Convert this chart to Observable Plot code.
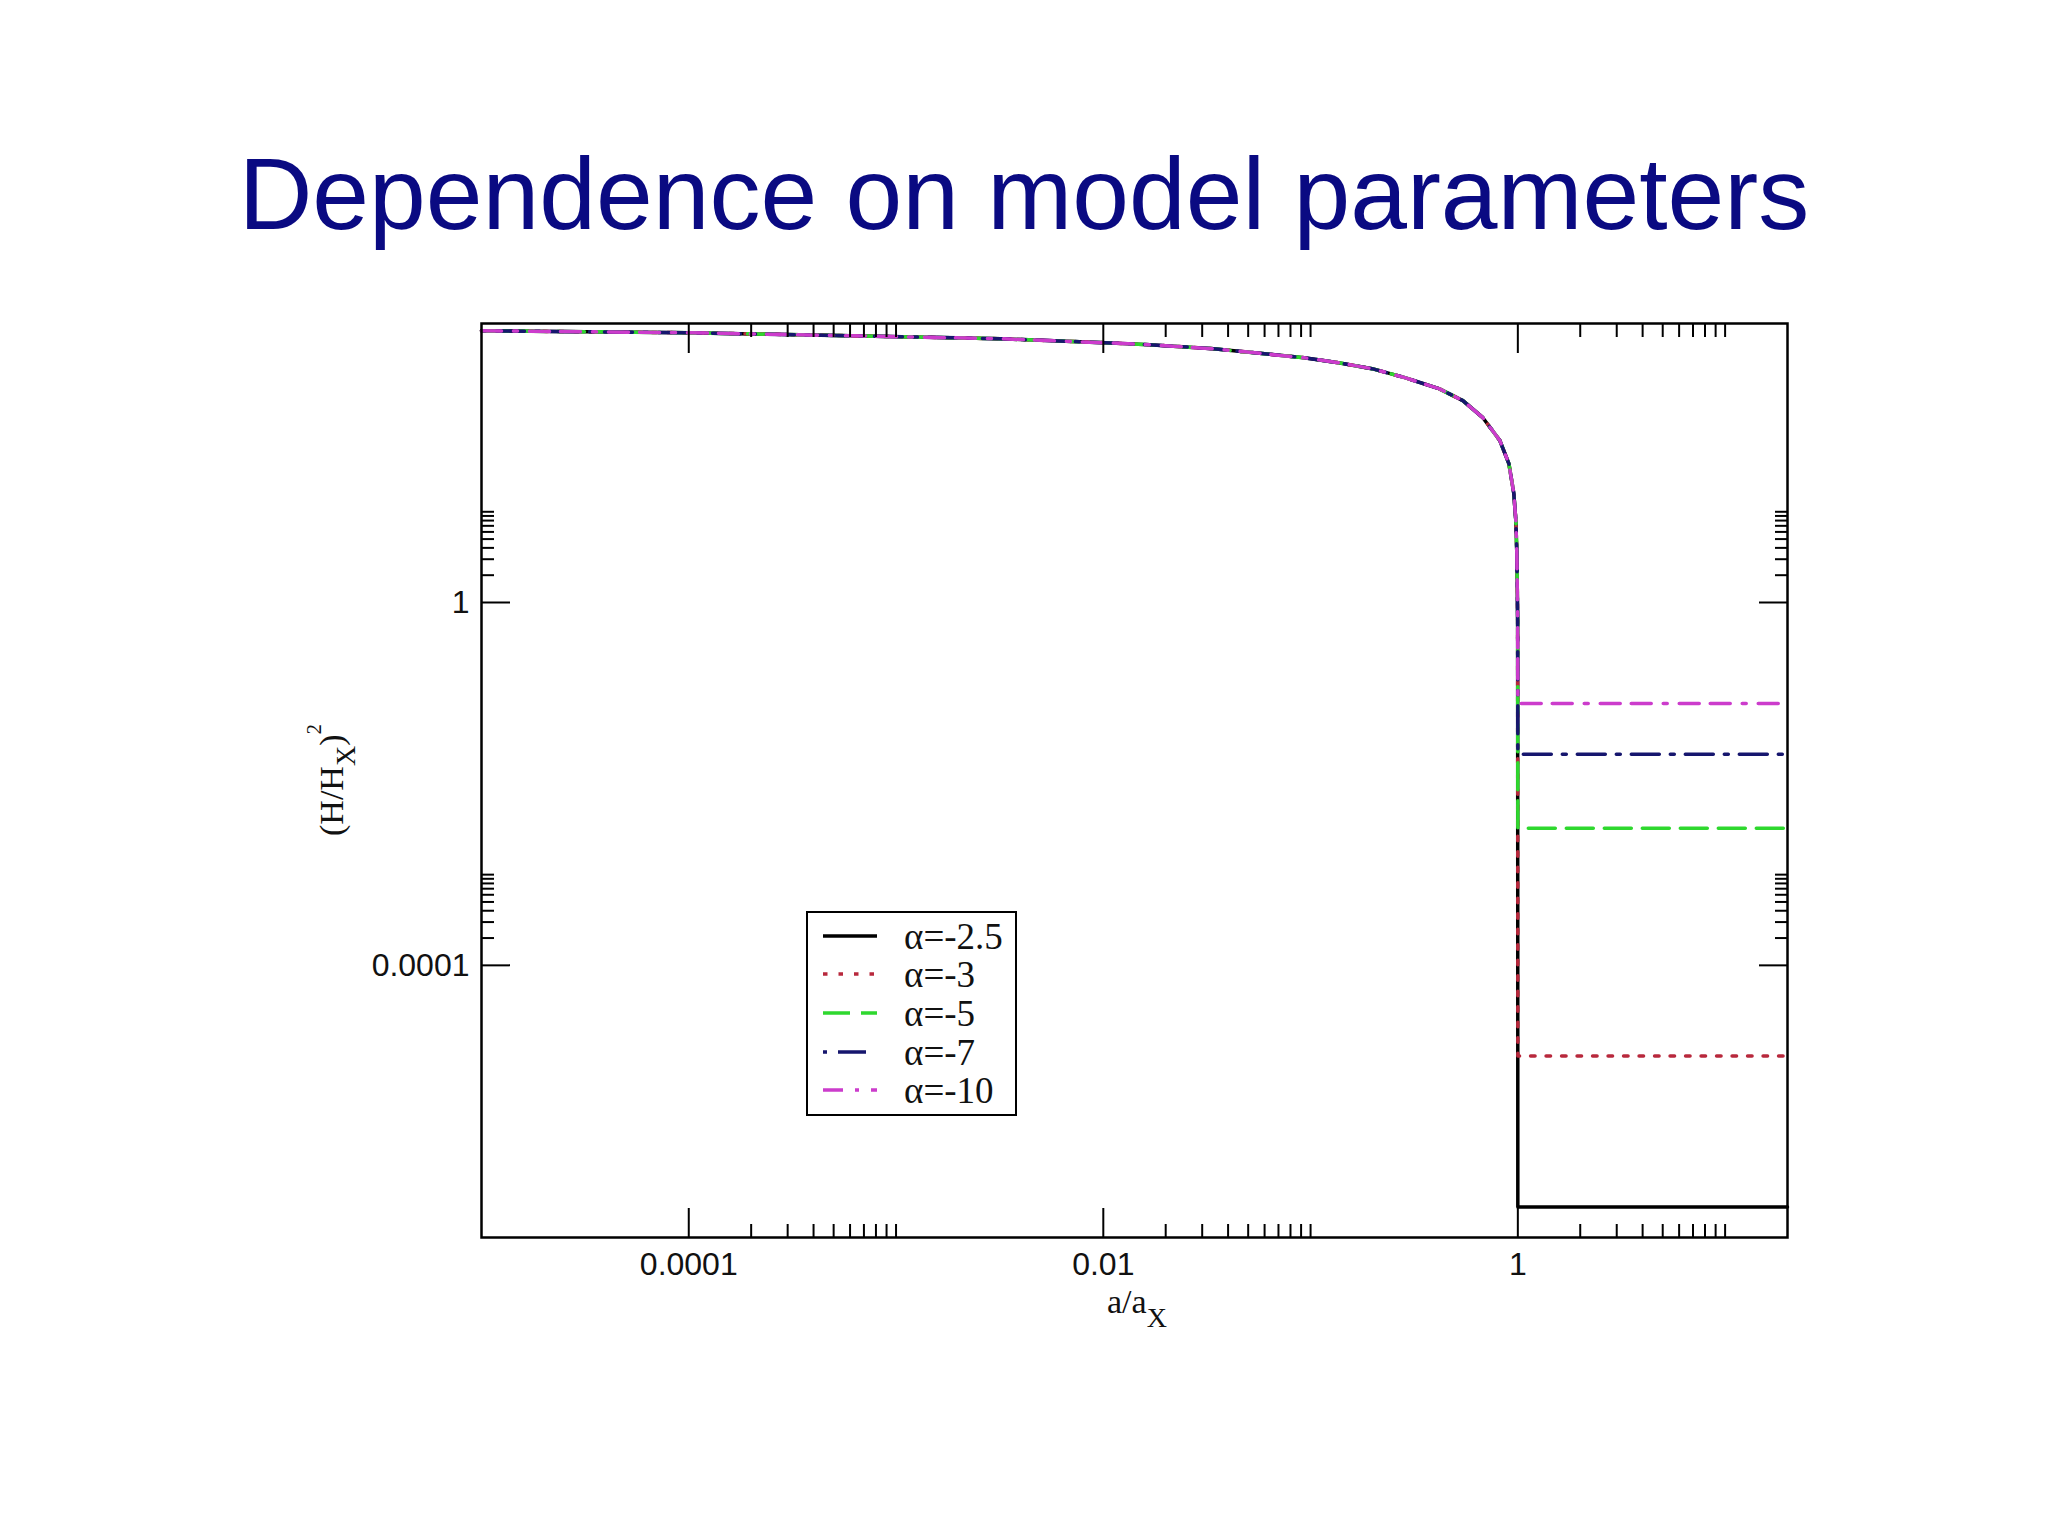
<!DOCTYPE html>
<html>
<head>
<meta charset="utf-8">
<script src="https://cdn.jsdelivr.net/npm/d3@7"></script>
<script src="https://cdn.jsdelivr.net/npm/@observablehq/plot@0.6"></script>
<style>
  html, body { margin: 0; padding: 0; background: #ffffff; }
  #page { width: 2048px; height: 1536px; position: relative; overflow: hidden; }
  #title {
    margin: 0; padding-top: 143px; height: 97px; line-height: 102px;
    font-family: "Liberation Sans", Arial, sans-serif; font-size: 102px;
    color: #0a0a82; text-align: center; white-space: nowrap; font-weight: normal;
  }
  #chart svg { display: block; }
</style>
</head>
<body>
<div id="page">
  <div id="title">Dependence on model parameters</div>
  <div id="chart"></div>
</div>
<script>
// ---- data ----
// shared curve for a/a_X < 1 (all alpha values coincide there)
const xCurve = [1e-5, 1e-4, 6e-4, 3.2e-3, 0.0102, 0.0167, 0.034, 0.06, 0.093, 0.136, 0.198, 0.285, 0.416, 0.543, 0.678, 0.819, 0.905, 0.956, 0.978, 0.989, 0.998];
const yCurve = [990, 941, 872, 808, 730, 694, 627, 552, 499, 440, 378, 301, 228, 168, 109, 61, 34, 16, 8, 3.5, 0.63];
// series
const alphaLabels = ["α=-2.5", "α=-3", "α=-5", "α=-7", "α=-10"];
const plateauValues = [2.17e-7, 1.0e-5, 0.00324, 0.0212, 0.0772];
const xJump = 1;
const xEnd = 20;
// ticks
const xMajorTicks = [1e-4, 1e-2, 1];
const xTickLabels = ["0.0001", "0.01", "1"];
const yMajorTicks = [1e-4, 1];
const yTickLabels = ["0.0001", "1"];
const minorMultipliers = [2, 3, 4, 5, 6, 7, 8, 9, 10];

// ---- styles ----
const seriesColors = ["#000000", "#b8283c", "#2ed82e", "#16166e", "#cc3ccc"];
const seriesDashes = [null, "4.5,11", "27,11", "4,11,28,11", "20,12,4,12,20,11"];

const xDomain = [1e-5, xEnd];
const yDomain = [1e-7, 1190];

const rows = [];
alphaLabels.forEach((label, i) => {
  xCurve.forEach((x, j) => rows.push({series: label, x, y: yCurve[j]}));
  rows.push({series: label, x: xJump, y: plateauValues[i]});
  rows.push({series: label, x: xEnd, y: plateauValues[i]});
});

const inDom = (v, d) => v > d[0] * 1.0001 && v < d[1] * 0.9999;
const xMinor = xMajorTicks.flatMap(m => minorMultipliers.map(k => m * k)).filter(v => inDom(v, xDomain));
const yMinor = yMajorTicks.flatMap(m => minorMultipliers.map(k => m * k)).filter(v => inDom(v, yDomain));

const fmtX = d => xTickLabels[xMajorTicks.indexOf(d)] ?? "";
const fmtY = d => yTickLabels[yMajorTicks.indexOf(d)] ?? "";

const majorLen = 29, minorLen = 13, tickW = 2;

const lineMarks = alphaLabels.map((label, i) =>
  Plot.line(rows.filter(r => r.series === label), {
    x: "x", y: "y",
    stroke: seriesColors[i],
    strokeWidth: 3.5,
    strokeDasharray: seriesDashes[i] ?? undefined,
    curve: "linear"
  })
);

const tickMarks = [];
for (const anchor of ["bottom", "top"]) {
  tickMarks.push(Plot.axisX({anchor, ticks: xMajorTicks, tickSize: -majorLen, fill: "none", strokeWidth: tickW, tickFormat: () => "", label: null}));
  tickMarks.push(Plot.axisX({anchor, ticks: xMinor, tickSize: -minorLen, fill: "none", strokeWidth: tickW, tickFormat: () => "", label: null}));
}
for (const anchor of ["left", "right"]) {
  tickMarks.push(Plot.axisY({anchor, ticks: yMajorTicks, tickSize: -majorLen, fill: "none", strokeWidth: tickW, tickFormat: () => "", label: null}));
  tickMarks.push(Plot.axisY({anchor, ticks: yMinor, tickSize: -minorLen, fill: "none", strokeWidth: tickW, tickFormat: () => "", label: null}));
}

const plot = Plot.plot({
  width: 2048,
  height: 1296,
  marginTop: 83,
  marginBottom: 299,
  marginLeft: 481,
  marginRight: 261,
  style: {fontFamily: "'Liberation Sans', Arial, sans-serif", background: "transparent", color: "#000"},
  x: {type: "log", domain: xDomain, axis: null, label: null},
  y: {type: "log", domain: yDomain, axis: null, label: null},
  marks: [
    ...lineMarks,
    ...tickMarks,
    Plot.axisX({anchor: "bottom", ticks: xMajorTicks, tickSize: 0, tickPadding: 15, tickFormat: fmtX, fontSize: 32, fill: "#111", label: null}),
    Plot.axisY({anchor: "left", ticks: yMajorTicks, tickSize: 0, tickPadding: 12, tickFormat: fmtY, fontSize: 32, fill: "#111", label: null}),
    Plot.frame({stroke: "#000", strokeWidth: 2.5})
  ]
});

document.getElementById("chart").appendChild(plot);

// ---- axis labels and legend (added onto the Plot SVG) ----
const svg = d3.select(plot);
const serif = "'Liberation Serif', 'Times New Roman', serif";

// y label: (H/H_X)^2 rotated
const yl = svg.append("text")
  .attr("transform", "translate(343,540) rotate(-90)")
  .attr("text-anchor", "middle")
  .attr("font-family", serif).attr("font-size", 34).attr("fill", "#111");
yl.append("tspan").text("(H/H");
yl.append("tspan").attr("dy", 12).attr("font-size", 28).text("X");
yl.append("tspan").attr("dy", -12).text(")");
yl.append("tspan").attr("dy", -22).attr("font-size", 21).text("2");

// x label: a/a_X
const xl = svg.append("text")
  .attr("x", 1107).attr("y", 1073)
  .attr("text-anchor", "start")
  .attr("font-family", serif).attr("font-size", 34).attr("fill", "#111");
xl.append("tspan").text("a/a");
xl.append("tspan").attr("dy", 14).attr("font-size", 28).text("X");

// legend
const lg = svg.append("g").attr("text-anchor", "start");
lg.append("rect").attr("x", 807).attr("y", 672).attr("width", 209).attr("height", 203)
  .attr("fill", "#fff").attr("stroke", "#000").attr("stroke-width", 2);
const rowYs = [696, 734, 773, 812, 850];
alphaLabels.forEach((label, i) => {
  lg.append("line").attr("x1", 823).attr("x2", 877).attr("y1", rowYs[i]).attr("y2", rowYs[i])
    .attr("stroke", seriesColors[i]).attr("stroke-width", 3.5)
    .attr("stroke-dasharray", seriesDashes[i] ?? null);
  lg.append("text").attr("x", 904).attr("y", rowYs[i] + 13)
    .attr("text-anchor", "start")
    .attr("font-family", serif).attr("font-size", 37).attr("fill", "#111").text(label);
});
</script>
</body>
</html>
